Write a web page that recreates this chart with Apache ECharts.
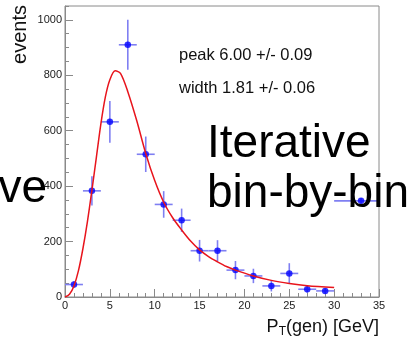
<!DOCTYPE html>
<html>
<head>
<meta charset="utf-8">
<script src="https://cdn.jsdelivr.net/npm/echarts@6/dist/echarts.min.js"></script>
<style>
  html, body { margin: 0; padding: 0; background: #fff; }
  #chart { width: 416px; height: 341px; }
</style>
</head>
<body>
<div id="chart"></div>
<script>
// Unfolded spectrum: bin centres, contents and uncertainties
const binCenters = [1, 3, 5, 7, 9, 11, 13, 15, 17, 19, 21, 23, 25, 27, 29, 33];
const binContents = [45, 383, 632, 910, 515, 334, 277, 167, 167, 97, 76, 40, 85, 28, 22, 347];
const binErrY = [12, 53, 75, 90, 64, 48, 42, 39, 38, 33, 26, 20, 37, 13, 10, 10];
const binErrX = [1, 1, 1, 1, 1, 1, 1, 1, 1, 1, 1, 1, 1, 1, 1, 3];

// Fitted peak function sampled along pT
const fitX = [0, 0.5, 1, 1.5, 2, 2.5, 3, 3.5, 4, 4.5, 5, 5.6, 6.2, 7, 8, 9, 10, 11, 12, 13, 14, 15, 16, 17, 18, 19, 21, 23, 25, 27, 30];
const fitY = [0, 10, 40, 95, 175, 272, 385, 505, 625, 722, 784, 816, 806, 741, 636, 518, 420, 342, 286, 242, 202, 170, 146, 127, 110, 97, 76, 60, 49, 41, 34];

const yTicks = [0, 200, 400, 600, 800, 1000];
const xTicks = [0, 5, 10, 15, 20, 25, 30, 35];

const FONT = "'Liberation Sans', Arial, Helvetica, sans-serif";
const AXIS_GREY = '#8a8a8a';

const points = binCenters.map((x, i) => [x, binContents[i], binErrX[i], binErrY[i]]);
const fitLine = fitX.map((x, i) => [x, fitY[i]]);

const chart = echarts.init(document.getElementById('chart'), null, { renderer: 'canvas' });

chart.setOption({
  animation: false,
  backgroundColor: '#fff',
  grid: {
    left: 65, top: 6, right: 37, bottom: 44,
    show: true, borderColor: AXIS_GREY, borderWidth: 1, backgroundColor: 'transparent'
  },
  xAxis: {
    type: 'value', min: xTicks[0], max: xTicks[xTicks.length - 1], interval: 5,
    axisLine: { lineStyle: { color: AXIS_GREY, width: 1 } },
    axisTick: { inside: true, length: 8, lineStyle: { color: AXIS_GREY } },
    minorTick: { show: true, splitNumber: 5, length: 4, lineStyle: { color: AXIS_GREY } },
    splitLine: { show: false },
    axisLabel: { color: '#222', fontFamily: FONT, fontSize: 11, margin: 3 }
  },
  yAxis: [
    {
      type: 'value', min: 0, max: 1050, interval: 200,
      axisLine: { show: true, lineStyle: { color: AXIS_GREY, width: 1 } },
      axisTick: { show: true, inside: true, length: 8, lineStyle: { color: AXIS_GREY } },
      splitLine: { show: false },
      axisLabel: {
        color: '#222', fontFamily: FONT, fontSize: 11, margin: 3, showMaxLabel: false,
        formatter: v => (yTicks.indexOf(v) >= 0 ? String(v) : '')
      }
    },
    {
      type: 'value', min: 0, max: 1050, interval: 50, position: 'left',
      axisLine: { show: false },
      axisTick: { show: true, inside: true, length: 4, lineStyle: { color: AXIS_GREY } },
      splitLine: { show: false },
      axisLabel: { show: false }
    }
  ],
  series: [
    {
      type: 'custom',
      clip: true,
      data: points,
      z: 2,
      renderItem: function (params, api) {
        const x = api.value(0), y = api.value(1), ex = api.value(2), ey = api.value(3);
        const l = api.coord([x - ex, y]), r = api.coord([x + ex, y]);
        const t = api.coord([x, y + ey]), b = api.coord([x, Math.max(0, y - ey)]);
        const st = { stroke: '#7f7ff2', lineWidth: 1.6 };
        return {
          type: 'group',
          children: [
            { type: 'line', shape: { x1: l[0], y1: l[1], x2: r[0], y2: r[1] }, style: st },
            { type: 'line', shape: { x1: t[0], y1: t[1], x2: b[0], y2: b[1] }, style: st }
          ]
        };
      }
    },
    {
      type: 'scatter',
      data: points.map(p => [p[0], p[1]]),
      symbol: 'circle', symbolSize: 6.5,
      itemStyle: { color: '#0000ff' },
      z: 3
    },
    {
      type: 'line',
      data: fitLine,
      smooth: 0.3,
      showSymbol: false,
      lineStyle: { color: '#e8141c', width: 1.5 },
      z: 4
    }
  ],
  graphic: [
    {
      type: 'text', x: 20, y: 5, rotation: Math.PI / 2,
      style: { text: 'events', font: '20px ' + FONT, fill: '#111', textAlign: 'right', textVerticalAlign: 'middle' }
    },
    {
      type: 'text', x: 379, y: 327,
      style: {
        text: '{p|P}{s|T}{p|(gen) [GeV]}', textAlign: 'right', textVerticalAlign: 'middle',
        rich: {
          p: { fontFamily: FONT, fontSize: 18, fill: '#111', verticalAlign: 'middle' },
          s: { fontFamily: FONT, fontSize: 12, fill: '#111', padding: [10, 0, 0, 0], verticalAlign: 'bottom' }
        }
      }
    },
    {
      type: 'text', x: 179, y: 55,
      style: { text: 'peak 6.00 +/- 0.09', font: '16.5px ' + FONT, fill: '#111', textAlign: 'left', textVerticalAlign: 'middle' }
    },
    {
      type: 'text', x: 179, y: 88,
      style: { text: 'width 1.81 +/- 0.06', font: '16.5px ' + FONT, fill: '#111', textAlign: 'left', textVerticalAlign: 'middle' }
    },
    {
      type: 'text', x: 207, y: 144, z: 10,
      style: { text: 'Iterative', font: '46px ' + FONT, fill: '#000', textAlign: 'left', textVerticalAlign: 'middle' }
    },
    {
      type: 'text', x: 207, y: 194, z: 10,
      style: { text: 'bin-by-bin', font: '46px ' + FONT, fill: '#000', textAlign: 'left', textVerticalAlign: 'middle' }
    },
    {
      type: 'text', x: 47, y: 189, z: 10,
      style: { text: 've', font: '46px ' + FONT, fill: '#000', textAlign: 'right', textVerticalAlign: 'middle' }
    }
  ]
});
</script>
</body>
</html>
